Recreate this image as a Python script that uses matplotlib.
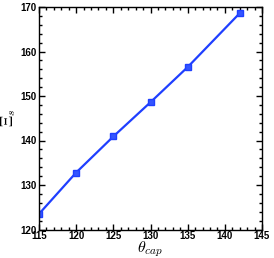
import matplotlib
matplotlib.use('Agg')
import matplotlib.pyplot as plt
from matplotlib.ticker import MultipleLocator

theta_cap = [115, 120, 125, 130, 135, 142]
xi_s = [123.5, 132.8, 140.9, 148.6, 156.5, 168.6]

plt.rcParams['font.family'] = ['Liberation Sans', 'DejaVu Sans']
plt.rcParams['mathtext.fontset'] = 'cm'

fig = plt.figure(figsize=(2.74, 2.58), dpi=100)
ax = fig.add_axes([39/274, 28.5/258, 223/274, 222.5/258])

ax.plot(theta_cap, xi_s, color='#1f3fff', lw=1.6, marker='s', ms=4.5,
        mfc='#3355ff', mec='#1f3fff')

ax.set_xlim(115, 145)
ax.set_ylim(120, 170)
ax.xaxis.set_major_locator(MultipleLocator(5))
ax.xaxis.set_minor_locator(MultipleLocator(1))
ax.yaxis.set_major_locator(MultipleLocator(10))
ax.yaxis.set_minor_locator(MultipleLocator(2))
ax.tick_params(which='both', direction='in', top=True, right=True,
               labelsize=7, width=1.0)
ax.tick_params(axis='x', pad=1)
ax.tick_params(axis='y', pad=2)
ax.tick_params(which='major', length=4)
ax.tick_params(which='minor', length=2)
for lab in ax.get_xticklabels() + ax.get_yticklabels():
    lab.set_fontweight('bold')
for s in ax.spines.values():
    s.set_linewidth(1.0)

fig.text(150/274, 1 - 249/258, r'$\theta_{cap}$', fontsize=11.5,
         ha='center', va='center')
fig.text(9/274, 1 - 118/258, r'$\Xi_s$', fontsize=12, rotation=90,
         ha='center', va='center')

fig.savefig('out.png', dpi=100)
